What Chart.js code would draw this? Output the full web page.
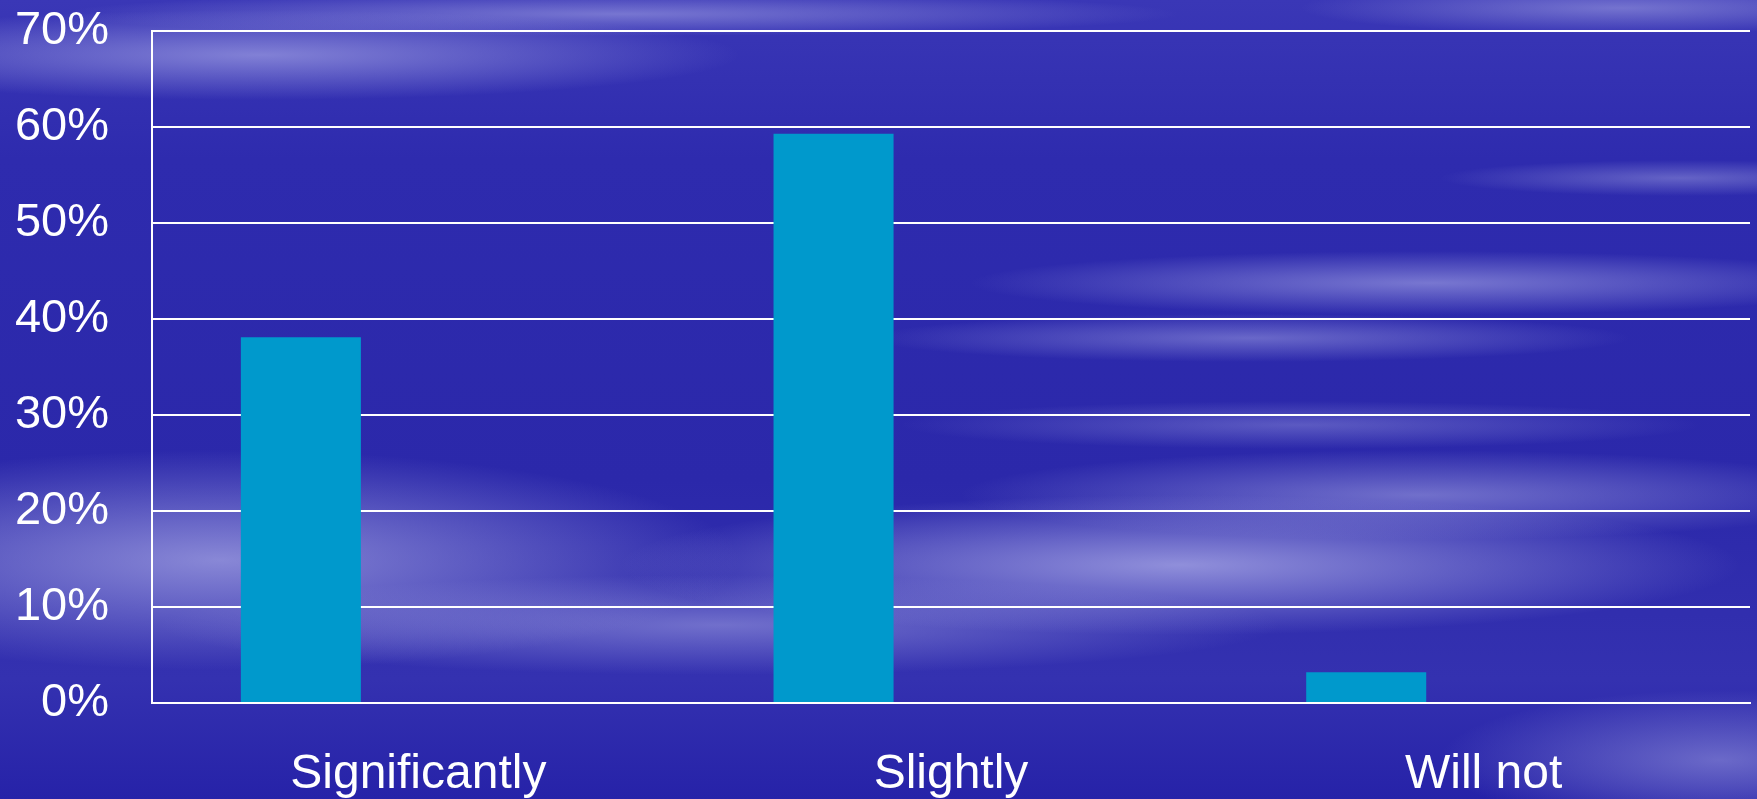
<!DOCTYPE html>
<html>
<head>
<meta charset="utf-8">
<script src="https://cdn.jsdelivr.net/npm/chart.js@4/dist/chart.umd.min.js"></script>
<style>
  html, body { margin: 0; padding: 0; }
  body {
    width: 1757px; height: 799px; overflow: hidden;
    background:
      radial-gradient(ellipse 480px 45px at 260px 55px, rgba(170,170,232,0.65), rgba(170,170,232,0) 100%),
      radial-gradient(ellipse 560px 22px at 620px 14px, rgba(170,170,232,0.55), rgba(170,170,232,0) 100%),
      radial-gradient(ellipse 320px 26px at 1620px 8px, rgba(165,165,228,0.55), rgba(165,165,228,0) 100%),
      radial-gradient(ellipse 240px 18px at 1680px 178px, rgba(155,155,222,0.50), rgba(155,155,222,0) 100%),
      radial-gradient(ellipse 460px 32px at 1430px 283px, rgba(160,160,228,0.65), rgba(160,160,228,0) 100%),
      radial-gradient(ellipse 380px 24px at 1250px 338px, rgba(155,155,225,0.55), rgba(155,155,225,0) 100%),
      radial-gradient(ellipse 400px 24px at 1300px 425px, rgba(150,150,222,0.45), rgba(150,150,222,0) 100%),
      radial-gradient(ellipse 560px 70px at 1180px 565px, rgba(185,185,238,0.70), rgba(185,185,238,0) 100%),
      radial-gradient(ellipse 460px 45px at 1420px 495px, rgba(170,170,230,0.55), rgba(170,170,230,0) 100%),
      radial-gradient(ellipse 520px 110px at 220px 560px, rgba(175,175,232,0.70), rgba(175,175,232,0) 100%),
      radial-gradient(ellipse 560px 50px at 720px 625px, rgba(165,165,228,0.55), rgba(165,165,228,0) 100%),
      radial-gradient(ellipse 280px 70px at 1720px 760px, rgba(160,160,225,0.55), rgba(160,160,225,0) 100%),
      linear-gradient(180deg, #3a37b6 0%, #2e2bae 20%, #2b28aa 60%, #3431b0 85%, #2622a8 100%);
  }
  #wrap { position: relative; width: 1757px; height: 799px; }
</style>
</head>
<body>
<div id="wrap"><canvas id="chart"></canvas></div>
<script>
// Share of respondents per answer (%)
const categories = ['Significantly', 'Slightly', 'Will not'];
const shareValues = [38.1, 59.3, 3.2];
// second, empty series slot of the original two-series layout
const emptySeries = [null, null, null];
const yTicks = [0, 10, 20, 30, 40, 50, 60, 70];

const FONT = "'Liberation Sans', Arial, sans-serif";

new Chart(document.getElementById('chart'), {
  type: 'bar',
  data: {
    labels: categories,
    datasets: [
      {
        label: 'Share',
        data: shareValues,
        backgroundColor: '#0099cc',
        borderWidth: 0,
        barPercentage: 0.511,
        categoryPercentage: 0.882
      },
      {
        label: '',
        data: emptySeries,
        backgroundColor: 'rgba(0,0,0,0)',
        barPercentage: 0.511,
        categoryPercentage: 0.882
      }
    ]
  },
  options: {
    responsive: true,
    maintainAspectRatio: false,
    animation: false,
    events: [],
    layout: { padding: { top: 31, right: 7, bottom: 0, left: 0 } },
    plugins: {
      legend: { display: false },
      tooltip: { enabled: false },
      title: { display: false }
    },
    scales: {
      x: {
        offset: true,
        grid: { display: false, drawTicks: false },
        border: { display: true, color: '#ffffff', width: 2 },
        ticks: {
          color: '#ffffff',
          font: { family: FONT, size: 48 },
          padding: 43,
          maxRotation: 0,
          autoSkip: false
        },
        afterFit(scale) {
          scale.height = 96;
          scale.paddingLeft = 0;
          scale.paddingRight = 0;
        }
      },
      y: {
        min: 0,
        max: 70,
        afterBuildTicks(scale) { scale.ticks = yTicks.map(v => ({ value: v })); },
        grid: { color: '#ffffff', lineWidth: 2, drawTicks: false },
        border: { display: true, color: '#ffffff', width: 2 },
        ticks: {
          color: '#ffffff',
          font: { family: FONT, size: 47 },
          padding: 43,
          callback: v => v + '%'
        },
        afterFit(scale) {
          scale.width = 152;
          scale.paddingTop = 0;
          scale.paddingBottom = 0;
        }
      }
    }
  }
});
</script>
</body>
</html>
